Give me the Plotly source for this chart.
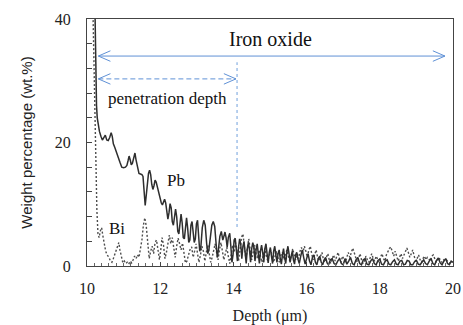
import plotly.graph_objects as go

# ---- data ----
pb_depth = [10.20, 10.22, 10.24, 10.26, 10.28, 10.31, 10.34, 10.38, 10.42, 10.46,
            10.50, 10.54, 10.58, 10.62, 10.66, 10.69, 10.72, 10.76, 10.80, 10.85,
            10.90, 10.95, 11.00, 11.05, 11.09, 11.12, 11.15, 11.18, 11.21, 11.24,
            11.28, 11.31, 11.34, 11.38, 11.42, 11.46, 11.50, 11.53, 11.56, 11.59,
            11.62, 11.65, 11.68, 11.71, 11.74, 11.77, 11.80, 11.83, 11.86, 11.89,
            11.92, 11.96, 12.00, 12.03, 12.06, 12.09, 12.12, 12.15, 12.18, 12.21,
            12.24, 12.27, 12.30, 12.33, 12.36, 12.39, 12.42, 12.45, 12.48, 12.51,
            12.54, 12.57, 12.60, 12.63, 12.66, 12.69, 12.72, 12.75, 12.78, 12.81,
            12.84, 12.87, 12.90, 12.93, 12.96, 12.99, 13.02, 13.05, 13.08, 13.11,
            13.15, 13.19, 13.23, 13.27, 13.30, 13.33, 13.37, 13.41, 13.45, 13.49,
            13.53, 13.56, 13.59, 13.63, 13.67, 13.71, 13.74, 13.77, 13.80, 13.83,
            13.86, 13.90, 13.93, 13.96, 13.99, 14.02, 14.05, 14.08, 14.11, 14.14,
            14.17, 14.20, 14.23, 14.26, 14.29, 14.32, 14.35, 14.38, 14.41, 14.44,
            14.47, 14.50, 14.53, 14.56, 14.59, 14.62, 14.65, 14.68, 14.71, 14.74,
            14.77, 14.80, 14.83, 14.86, 14.89, 14.92, 14.95, 14.98, 15.01, 15.04,
            15.07, 15.10, 15.13, 15.16, 15.19, 15.22, 15.25, 15.28, 15.31, 15.34,
            15.37, 15.40, 15.43, 15.46, 15.49, 15.52, 15.55, 15.58, 15.61, 15.64,
            15.67, 15.70, 15.73, 15.76, 15.80, 15.84, 15.88, 15.92, 15.96, 16.00,
            16.04, 16.08, 16.12, 16.16, 16.20, 16.24, 16.28, 16.32, 16.36, 16.40,
            16.44, 16.48, 16.52, 16.56, 16.60, 16.65, 16.70, 16.75, 16.80, 16.85,
            16.90, 16.95, 17.00, 17.05, 17.10, 17.15, 17.20, 17.25, 17.30, 17.35,
            17.40, 17.45, 17.50, 17.55, 17.60, 17.65, 17.70, 17.75, 17.80, 17.85,
            17.90, 17.95, 18.00, 18.05, 18.10, 18.15, 18.20, 18.25, 18.30, 18.35,
            18.40, 18.45, 18.50, 18.55, 18.60, 18.65, 18.70, 18.75, 18.80, 18.85,
            18.90, 18.95, 19.00, 19.05, 19.10, 19.15, 19.20, 19.25, 19.30, 19.35,
            19.40, 19.45, 19.50, 19.55, 19.60, 19.65, 19.70, 19.75, 19.80, 19.85,
            19.90, 19.95, 20.00]
pb_wt = [48.0, 38.0, 31.0, 26.0, 24.0, 22.8, 21.8, 21.0, 20.4, 20.8,
         21.2, 20.4, 20.3, 20.8, 21.6, 21.0, 19.8, 19.2, 18.4, 17.8,
         16.8, 16.0, 15.9, 16.0, 16.3, 17.0, 17.8, 17.2, 16.4, 16.6,
         17.6, 18.3, 17.2, 15.8, 15.0, 14.9, 14.8, 14.5, 12.0, 9.8,
         11.5, 13.8, 15.0, 15.5, 14.8, 13.2, 12.4, 13.0, 13.9, 13.6,
         12.8, 12.0, 11.2, 10.2, 9.9, 10.4, 10.8, 10.2, 8.6, 7.6,
         8.6, 10.1, 9.4, 7.2, 6.6, 8.2, 9.2, 8.0, 5.6, 5.2,
         7.2, 8.4, 7.0, 4.6, 4.4, 6.8, 7.8, 6.2, 3.8, 4.2,
         6.6, 7.2, 5.6, 3.8, 4.4, 6.8, 7.4, 5.0, 2.4, 3.0,
         6.2, 7.4, 6.6, 3.6, 2.0, 2.6, 4.8, 6.6, 7.2, 6.4,
         3.4, 1.4, 2.6, 4.8, 5.6, 4.2, 4.8, 5.5, 4.6, 3.0,
         4.6, 5.3, 3.2, 0.6, 1.8, 4.2, 4.5, 2.6, 0.8, 3.0,
         4.4, 3.6, 1.2, 3.2, 4.0, 2.2, 0.4, 2.8, 3.8, 2.6,
         0.6, 2.8, 3.8, 3.0, 0.8, 2.6, 3.6, 2.0, 0.4, 2.4,
         3.4, 2.2, 0.6, 2.8, 3.6, 2.0, 0.5, 2.2, 3.0, 1.6,
         0.4, 2.4, 3.2, 1.8, 0.6, 2.0, 2.6, 1.2, 0.3, 1.8,
         2.8, 1.4, 0.4, 2.2, 3.2, 2.0, 0.6, 1.6, 2.4, 1.0,
         0.3, 1.8, 2.2, 1.2, 0.4, 1.6, 2.6, 1.4, 0.3, 1.2,
         2.0, 0.8, 0.2, 1.4, 1.8, 0.6, 0.2, 1.2, 1.6, 0.6,
         0.2, 1.0, 1.4, 0.5, 0.2, 1.0, 1.2, 0.4, 0.2, 0.8,
         1.2, 0.4, 0.2, 1.2, 0.3, 0.8, 1.4, 0.4, 0.2, 1.0,
         1.4, 0.4, 0.2, 1.0, 1.2, 0.3, 0.2, 0.8, 1.2, 0.4,
         0.2, 0.9, 1.1, 0.3, 0.2, 0.8, 1.0, 0.3, 0.2, 0.7,
         1.0, 0.3, 0.2, 0.8, 0.9, 0.2, 0.3, 0.9, 0.8, 0.2,
         0.2, 0.7, 0.9, 0.3, 0.2, 0.6, 1.0, 0.4, 0.2, 0.8,
         1.2, 0.4, 0.2, 0.9, 1.3, 0.5, 0.2, 0.8, 1.2, 0.4,
         0.2, 0.8, 0.6]

bi_depth = [10.15, 10.18, 10.21, 10.24, 10.27, 10.30, 10.33, 10.37, 10.40, 10.43,
            10.47, 10.51, 10.55, 10.60, 10.64, 10.68, 10.72, 10.76, 10.80, 10.84,
            10.87, 10.90, 10.94, 10.98, 11.02, 11.06, 11.10, 11.14, 11.18, 11.22,
            11.26, 11.30, 11.34, 11.38, 11.42, 11.46, 11.50, 11.54, 11.58, 11.62,
            11.66, 11.70, 11.74, 11.78, 11.82, 11.86, 11.90, 11.94, 11.98, 12.02,
            12.05, 12.09, 12.13, 12.17, 12.21, 12.25, 12.29, 12.33, 12.37, 12.41,
            12.45, 12.49, 12.53, 12.57, 12.61, 12.65, 12.69, 12.73, 12.77, 12.81,
            12.86, 12.90, 12.94, 12.98, 13.02, 13.06, 13.10, 13.14, 13.18, 13.22,
            13.26, 13.30, 13.34, 13.38, 13.42, 13.46, 13.50, 13.54, 13.58, 13.62,
            13.66, 13.70, 13.74, 13.78, 13.82, 13.86, 13.90, 13.94, 13.98, 14.02,
            14.06, 14.10, 14.14, 14.18, 14.22, 14.26, 14.30, 14.34, 14.38, 14.42,
            14.46, 14.50, 14.54, 14.58, 14.62, 14.66, 14.70, 14.74, 14.78, 14.82,
            14.86, 14.90, 14.94, 14.98, 15.02, 15.06, 15.10, 15.14, 15.18, 15.22,
            15.26, 15.30, 15.34, 15.38, 15.42, 15.46, 15.50, 15.54, 15.58, 15.62,
            15.66, 15.70, 15.74, 15.78, 15.82, 15.86, 15.90, 15.94, 15.98, 16.02,
            16.06, 16.10, 16.14, 16.18, 16.22, 16.26, 16.30, 16.34, 16.38, 16.42,
            16.46, 16.50, 16.54, 16.58, 16.62, 16.66, 16.70, 16.74, 16.78, 16.82,
            16.86, 16.90, 16.94, 16.98, 17.02, 17.06, 17.10, 17.14, 17.18, 17.22,
            17.26, 17.30, 17.34, 17.38, 17.42, 17.46, 17.50, 17.54, 17.58, 17.62,
            17.66, 17.70, 17.74, 17.78, 17.82, 17.86, 17.90, 17.94, 17.98, 18.02,
            18.06, 18.10, 18.14, 18.18, 18.22, 18.26, 18.30, 18.34, 18.38, 18.42,
            18.46, 18.50, 18.54, 18.58, 18.62, 18.66, 18.70, 18.74, 18.78, 18.82,
            18.86, 18.90, 18.94, 18.98, 19.02, 19.06, 19.10, 19.14, 19.18, 19.22,
            19.26, 19.30, 19.34, 19.38, 19.42, 19.46, 19.50, 19.54, 19.58, 19.62,
            19.66, 19.70, 19.74, 19.78, 19.82, 19.86, 19.90, 19.94, 19.98]
bi_wt = [45.0, 36.0, 26.0, 16.0, 9.0, 5.2, 4.6, 5.8, 6.2, 5.0,
         3.4, 2.4, 1.8, 1.4, 0.8, 0.6, 1.2, 2.0, 2.8, 3.6,
         3.8, 2.6, 1.2, 0.5, 0.8, 0.4, 0.6, 0.3, 0.8, 0.5,
         1.0, 1.6, 1.2, 1.8, 1.4, 2.6, 4.2, 6.6, 7.8, 6.4,
         3.6, 1.2, 2.4, 3.2, 2.0, 3.8, 4.2, 2.6, 1.0, 2.8,
         4.6, 3.4, 1.2, 2.2, 4.0, 5.0, 3.6, 4.6, 3.0, 1.4,
         3.2, 4.5, 3.6, 2.6, 3.7, 1.6, 0.5, 0.8, 1.8, 2.6,
         3.1, 1.4, 2.4, 3.6, 2.0, 0.6, 1.8, 3.2, 2.4, 0.8,
         2.2, 3.4, 2.0, 0.6, 1.4, 2.8, 3.6, 2.2, 1.0, 2.6,
         3.8, 2.4, 1.0, 2.0, 3.0, 1.6, 0.4, 1.8, 3.4, 2.2,
         3.8, 2.4, 0.8, 2.6, 4.6, 5.2, 3.0, 1.2, 2.8, 4.4,
         2.6, 1.0, 2.2, 3.4, 2.0, 1.2, 2.6, 1.4, 0.6, 1.8,
         2.8, 1.6, 0.8, 1.8, 2.6, 1.4, 0.6, 1.6, 2.4, 1.2,
         0.6, 1.8, 2.2, 1.0, 1.6, 2.6, 1.4, 0.8, 1.6, 2.8,
         1.8, 1.0, 2.0, 1.2, 2.4, 3.0, 2.2, 3.2, 2.4, 1.4,
         2.6, 3.2, 2.0, 1.0, 1.8, 2.6, 1.4, 0.8, 1.6, 2.2,
         1.0, 0.6, 1.4, 2.0, 1.0, 0.4, 1.2, 1.8, 0.8, 1.4,
         2.2, 1.2, 0.6, 1.6, 1.0, 0.6, 1.4, 2.2, 1.4, 2.4,
         2.9, 2.2, 1.2, 0.6, 1.2, 2.0, 1.0, 0.4, 0.8, 1.6,
         1.0, 0.6, 1.4, 2.0, 1.2, 0.8, 1.6, 1.0, 0.6, 1.4,
         2.0, 1.2, 0.8, 1.8, 2.4, 2.8, 3.1, 2.2, 1.6, 2.4,
         1.4, 0.8, 1.4, 2.0, 1.2, 1.8, 2.6, 2.9, 2.2, 1.4,
         2.0, 2.6, 1.6, 0.8, 1.2, 1.8, 1.0, 0.6, 1.2, 1.6,
         1.0, 1.4, 1.2, 0.8, 1.6, 1.8, 1.2, 0.6, 1.0, 1.4,
         0.8, 0.6, 1.0, 0.8, 1.0, 0.6, 0.4, 0.8, 0.6]

assert len(pb_depth) == len(pb_wt), (len(pb_depth), len(pb_wt))
assert len(bi_depth) == len(bi_wt), (len(bi_depth), len(bi_wt))

x_ticks = [10, 12, 14, 16, 18, 20]
y_ticks = [0, 20, 40]

# annotation geometry (in data units)
iron_span = (10.31, 19.78)
iron_y = 34.0
pen_span = (10.31, 14.07)
pen_y = 30.3
pen_line_x = 14.10
pen_line_y = (6.3, 33.0)

blue = "rgb(95,145,214)"
light_blue = "rgb(160,192,232)"
serif = "Liberation Serif, Times New Roman, serif"
sans = "Liberation Sans, Arial, sans-serif"

fig = go.Figure()
fig.add_trace(go.Scatter(x=bi_depth, y=bi_wt, mode="lines", name="Bi",
                         line=dict(color="#4d4d4d", width=1.4, dash="2px,2px")))
fig.add_trace(go.Scatter(x=pb_depth, y=pb_wt, mode="lines", name="Pb",
                         line=dict(color="#2e2e2e", width=1.5)))

hx, hy = 0.33, 0.85  # open arrow head size


def chevron(tipx, tipy, direction, color, width):
    bx = tipx + hx * direction
    return dict(type="path", xref="x", yref="y",
                path=f"M {bx},{tipy + hy} L {tipx},{tipy} L {bx},{tipy - hy}",
                line=dict(color=color, width=width))


shapes = [
    dict(type="line", xref="x", yref="y", x0=iron_span[0], x1=iron_span[1],
         y0=iron_y, y1=iron_y, line=dict(color=blue, width=1)),
    chevron(iron_span[0], iron_y, 1, blue, 1),
    chevron(iron_span[1], iron_y, -1, blue, 1),
    dict(type="line", xref="x", yref="y", x0=pen_span[0], x1=pen_span[1],
         y0=pen_y, y1=pen_y, line=dict(color=blue, width=1, dash="5px,3px")),
    chevron(pen_span[0], pen_y, 1, blue, 1),
    chevron(pen_span[1], pen_y, -1, blue, 1),
    dict(type="line", xref="x", yref="y", x0=pen_line_x, x1=pen_line_x,
         y0=pen_line_y[0], y1=pen_line_y[1],
         line=dict(color=light_blue, width=1.5, dash="3px,3px")),
]

annotations = [
    dict(x=15.0, y=36.7, text="Iron oxide", showarrow=False,
         font=dict(family=serif, size=20, color="#111111")),
    dict(x=12.19, y=27.2, text="penetration depth", showarrow=False,
         font=dict(family=serif, size=17, color="#111111")),
    dict(x=12.43, y=13.9, text="Pb", showarrow=False,
         font=dict(family=serif, size=17, color="#111111")),
    dict(x=10.81, y=6.15, text="Bi", showarrow=False,
         font=dict(family=serif, size=17, color="#111111")),
]

fig.update_layout(
    width=463, height=325,
    margin=dict(l=87, r=10, t=19, b=59),
    paper_bgcolor="white", plot_bgcolor="white",
    showlegend=False,
    shapes=shapes, annotations=annotations,
    xaxis=dict(range=[10, 20], tickvals=x_ticks, ticktext=[str(v) for v in x_ticks],
               automargin=False,
               ticks="inside", ticklen=4, tickcolor="#444", showgrid=False, zeroline=False,
               showline=True, linecolor="#444", linewidth=1, mirror=True,
               minor=dict(dtick=0.2, ticks="inside", ticklen=3, tickcolor="#666", showgrid=False),
               tickfont=dict(family=serif, size=16, color="#222"),
               ticklabelstandoff=8,
               title=dict(text="Depth (μm)", font=dict(family=serif, size=16, color="#222"),
                          standoff=14)),
    yaxis=dict(range=[0, 40], tickvals=y_ticks, ticktext=[str(v) for v in y_ticks],
               automargin=False,
               ticks="inside", ticklen=5, tickcolor="#444", showgrid=False, zeroline=False,
               showline=True, linecolor="#444", linewidth=1, mirror=True,
               minor=dict(dtick=4, ticks="inside", ticklen=5, tickcolor="#444", showgrid=False),
               tickfont=dict(family=serif, size=16, color="#222"),
               ticklabelstandoff=12,
               title=dict(text="Weight percentage (wt.%)",
                          font=dict(family=sans, size=15, color="#222"), standoff=18)),
)

fig.write_html("out.html")
